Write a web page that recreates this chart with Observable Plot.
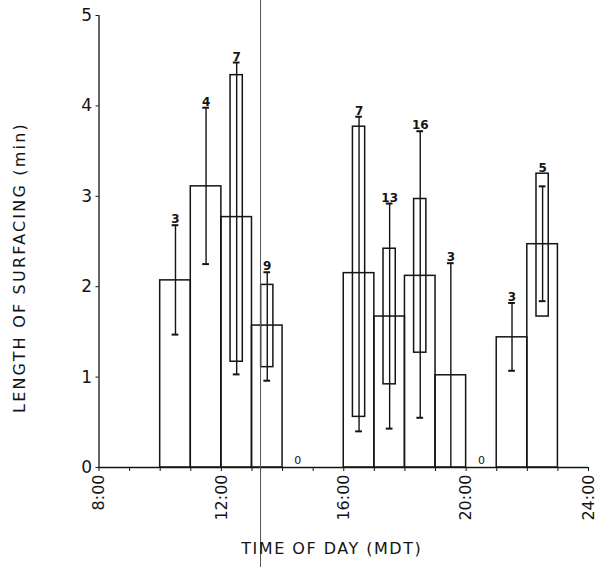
<!DOCTYPE html>
<html>
<head>
<meta charset="utf-8">
<script src="https://cdn.jsdelivr.net/npm/d3@7"></script>
<script src="https://cdn.jsdelivr.net/npm/@observablehq/plot@0.6"></script>
<style>
  html, body { margin: 0; padding: 0; background: #fff; }
  #chart svg { display: block; }
</style>
</head>
<body>
<div id="chart"></div>
<script>
// Hourly bins (start hour) of surfacing observations
const binStart = [10, 11, 12, 13, 14, 16, 17, 18, 19, 20, 21, 22];
// Sample size per bin
const sampleN  = [3, 4, 7, 9, 0, 7, 13, 16, 3, 0, 3, 5];
// Mean length of surfacing (min)
const meanLen  = [2.07, 3.11, 2.77, 1.57, 0, 2.15, 1.67, 2.12, 1.02, 0, 1.44, 2.47];
// Whisker limits
const whiskLo  = [1.47, 2.25, 1.03, 0.96, null, 0.40, 0.43, 0.55, 0, null, 1.07, 1.84];
const whiskHi  = [2.68, 3.98, 4.48, 2.16, null, 3.88, 2.92, 3.72, 2.26, null, 1.82, 3.11];
// Inner box limits
const boxLo    = [null, null, 1.17, 1.11, null, 0.56, 0.92, 1.27, null, null, null, 1.67];
const boxHi    = [null, null, 4.34, 2.02, null, 3.77, 2.42, 2.97, null, null, null, 3.25];

const xTicks = [8, 12, 16, 20, 24];
const yTicks = [0, 1, 2, 3, 4, 5];
const xTitle = "TIME OF DAY (MDT)";
const yTitle = "LENGTH OF SURFACING (min)";
const hairlineHour = 13.28;

const rows = binStart.map((h, i) => ({
  start: h, end: h + 1, mid: h + 0.5,
  n: sampleN[i], mean: meanLen[i],
  lo: whiskLo[i], hi: whiskHi[i],
  bLo: boxLo[i], bHi: boxHi[i],
  top: Math.max(whiskHi[i] ?? 0, boxHi[i] ?? 0)
}));
const bars = rows.filter(d => d.mean > 0);
const whiskers = rows.filter(d => d.hi != null);
const boxes = rows.filter(d => d.bHi != null);

const ink = "#141414";
const font = "DejaVu Sans, sans-serif";
const capHalf = 0.11;
const boxHalf = 0.2;

const chart = Plot.plot({
  width: 600,
  height: 567,
  marginLeft: 98.5,
  marginRight: 12,
  marginTop: 15,
  marginBottom: 100,
  style: {fontFamily: font, color: ink, background: "#fff", overflow: "visible"},
  x: {domain: [8, 24]},
  y: {domain: [0, 5]},
  marks: [
    // axes
    Plot.axisX({
      ticks: d3.range(8, 25),
      tickSize: 4,
      tickPadding: 3,
      tickFormat: d => xTicks.includes(d) ? `${d}:00` : "",
      tickRotate: -90,
      fontSize: 16,
      stroke: ink,
      label: null
    }),
    Plot.axisY({
      ticks: yTicks,
      tickSize: 3,
      tickPadding: 4,
      tickFormat: "d",
      fontSize: 17,
      stroke: ink,
      label: null
    }),
    Plot.ruleX([8], {y1: 0, y2: 5, stroke: ink, strokeWidth: 1.3}),
    Plot.ruleY([0], {x1: 8, x2: 24, stroke: ink, strokeWidth: 1.5}),
    // hourly mean bars
    Plot.rect(bars, {x1: "start", x2: "end", y1: 0, y2: "mean", fill: "none", stroke: ink, strokeWidth: 1.5}),
    // inner boxes
    Plot.rect(boxes, {x1: d => d.mid - boxHalf, x2: d => d.mid + boxHalf, y1: "bLo", y2: "bHi", fill: "none", stroke: ink, strokeWidth: 1.5}),
    // whiskers with caps
    Plot.ruleX(whiskers, {x: "mid", y1: "lo", y2: "hi", stroke: ink, strokeWidth: 1.4}),
    Plot.ruleY(whiskers, {y: "hi", x1: d => d.mid - capHalf, x2: d => d.mid + capHalf, stroke: ink, strokeWidth: 2}),
    Plot.ruleY(whiskers.filter(d => d.lo > 0), {y: "lo", x1: d => d.mid - capHalf, x2: d => d.mid + capHalf, stroke: ink, strokeWidth: 2}),
    // sample sizes
    Plot.text(rows.filter(d => d.n > 0), {x: "mid", y: "top", text: d => String(d.n), lineAnchor: "bottom", dy: -2, fontSize: 12, fontWeight: "bold", fill: ink}),
    Plot.text(rows.filter(d => d.n === 0), {x: "mid", y: 0, text: d => String(d.n), lineAnchor: "bottom", dy: -4, fontSize: 11, fill: ink}),
    // vertical hairline through the 13:00 bin
    Plot.ruleX([hairlineHour], {y1: -1.2, y2: 5.2, stroke: "#555", strokeWidth: 1}),
    // axis titles
    Plot.text([xTitle], {frameAnchor: "bottom", dx: -12, dy: 86, fontSize: 16, fill: ink}),
    Plot.text([yTitle], {frameAnchor: "left", textAnchor: "middle", rotate: -90, dx: -79, dy: 26, fontSize: 16, fill: ink})
  ]
});

// widen the lettering of the two axis titles
const svg = d3.select(chart);
svg.selectAll("text").filter(function() { return this.textContent === xTitle; }).style("letter-spacing", "1.5px");
svg.selectAll("text").filter(function() { return this.textContent === yTitle; }).style("letter-spacing", "2.2px");

document.getElementById("chart").append(chart);
</script>
</body>
</html>
